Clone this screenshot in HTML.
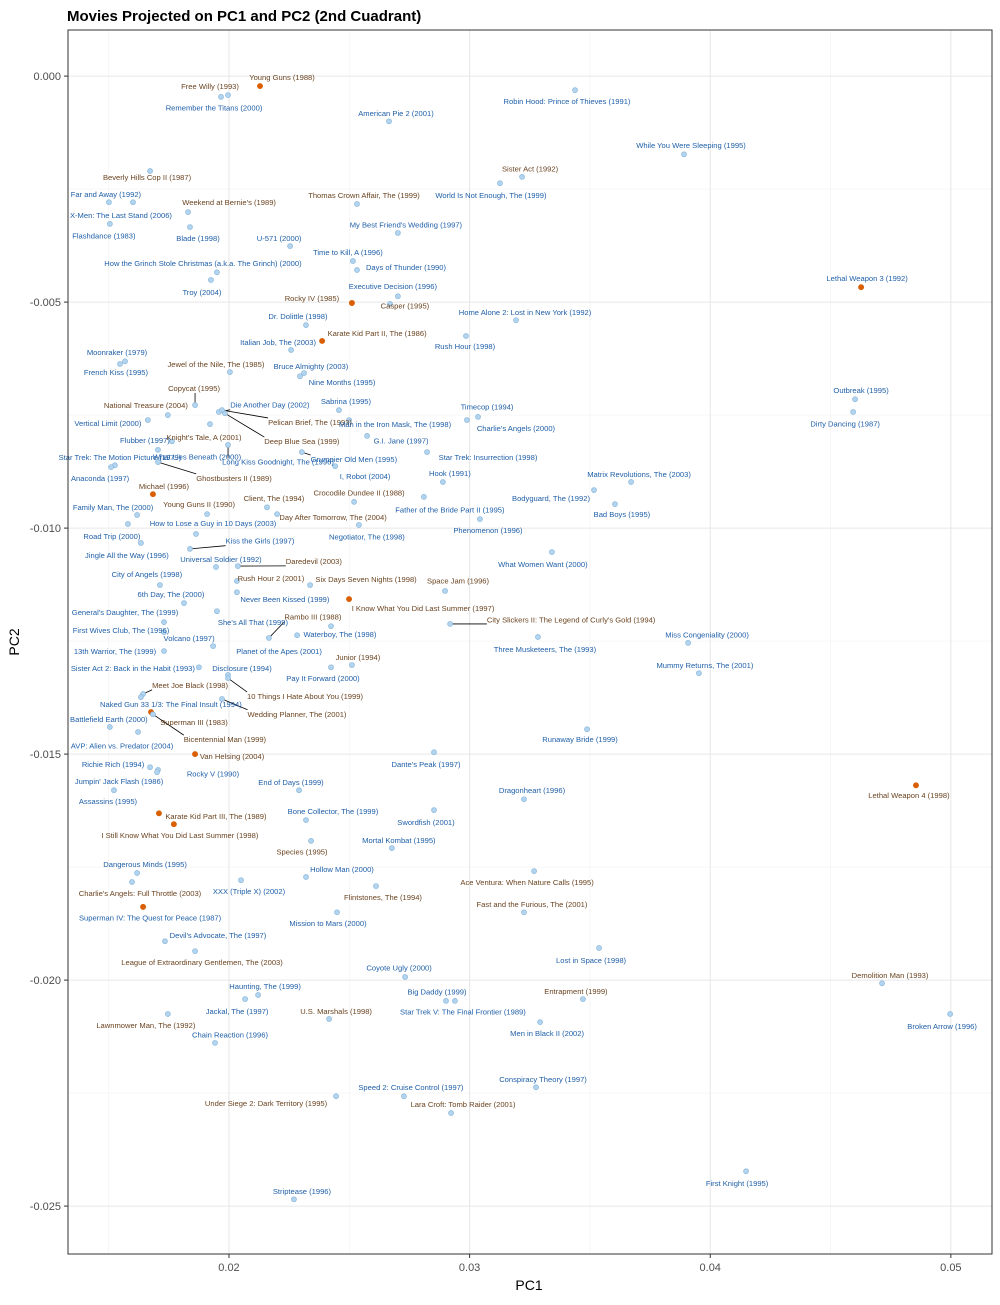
<!DOCTYPE html>
<html><head><meta charset="utf-8">
<style>
body{margin:0;background:#fff;}
svg text{font-family:"Liberation Sans",Arial,sans-serif;}
</style></head>
<body>
<svg id="chart" width="1000" height="1300" xmlns="http://www.w3.org/2000/svg">
<rect width="1000" height="1300" fill="#fff"/>
<text x="67" y="21" font-size="15" font-weight="bold" fill="#000">Movies Projected on PC1 and PC2 (2nd Cuadrant)</text>
<g id="grid"></g>
<g id="segs"></g>
<g id="pts"></g>
<g id="labs"></g>
<rect x="68" y="30" width="924" height="1224" fill="none" stroke="#333" stroke-width="1"/>
<g id="axes"></g>
<text x="529" y="1290" font-size="14" text-anchor="middle" fill="#000">PC1</text>
<text x="19" y="642" font-size="14" text-anchor="middle" fill="#000" transform="rotate(-90 19 642)">PC2</text>
</svg>
<script>
const titles=["Young Guns (1988)","Free Willy (1993)","Remember the Titans (2000)","American Pie 2 (2001)","Robin Hood: Prince of Thieves (1991)","While You Were Sleeping (1995)","Sister Act (1992)","World Is Not Enough, The (1999)","Thomas Crown Affair, The (1999)","Beverly Hills Cop II (1987)","Far and Away (1992)","X-Men: The Last Stand (2006)","Flashdance (1983)","Weekend at Bernie's (1989)","Blade (1998)","U-571 (2000)","My Best Friend's Wedding (1997)","Time to Kill, A (1996)","Days of Thunder (1990)","How the Grinch Stole Christmas (a.k.a. The Grinch) (2000)","Troy (2004)","Executive Decision (1996)","Casper (1995)","Rocky IV (1985)","Lethal Weapon 3 (1992)","Home Alone 2: Lost in New York (1992)","Dr. Dolittle (1998)","Karate Kid Part II, The (1986)","Italian Job, The (2003)","Rush Hour (1998)","Moonraker (1979)","French Kiss (1995)","Jewel of the Nile, The (1985)","Bruce Almighty (2003)","Nine Months (1995)","Copycat (1995)","Outbreak (1995)","Dirty Dancing (1987)","Sabrina (1995)","National Treasure (2004)","Die Another Day (2002)","Pelican Brief, The (1993)","Timecop (1994)","Vertical Limit (2000)","Man in the Iron Mask, The (1998)","Charlie's Angels (2000)","Knight's Tale, A (2001)","Flubber (1997)","G.I. Jane (1997)","Deep Blue Sea (1999)","Star Trek: The Motion Picture (1979)","What Lies Beneath (2000)","Long Kiss Goodnight, The (1996)","Grumpier Old Men (1995)","Star Trek: Insurrection (1998)","Ghostbusters II (1989)","Anaconda (1997)","I, Robot (2004)","Hook (1991)","Matrix Revolutions, The (2003)","Michael (1996)","Crocodile Dundee II (1988)","Client, The (1994)","Bodyguard, The (1992)","Family Man, The (2000)","Young Guns II (1990)","Father of the Bride Part II (1995)","Bad Boys (1995)","Day After Tomorrow, The (2004)","How to Lose a Guy in 10 Days (2003)","Phenomenon (1996)","Road Trip (2000)","Negotiator, The (1998)","Kiss the Girls (1997)","Jingle All the Way (1996)","Daredevil (2003)","Universal Soldier (1992)","What Women Want (2000)","City of Angels (1998)","Rush Hour 2 (2001)","Six Days Seven Nights (1998)","Space Jam (1996)","6th Day, The (2000)","Never Been Kissed (1999)","I Know What You Did Last Summer (1997)","City Slickers II: The Legend of Curly's Gold (1994)","General's Daughter, The (1999)","She's All That (1999)","Rambo III (1988)","Waterboy, The (1998)","First Wives Club, The (1996)","Volcano (1997)","Miss Congeniality (2000)","Three Musketeers, The (1993)","13th Warrior, The (1999)","Planet of the Apes (2001)","Junior (1994)","Sister Act 2: Back in the Habit (1993)","Disclosure (1994)","Mummy Returns, The (2001)","Pay It Forward (2000)","Meet Joe Black (1998)","10 Things I Hate About You (1999)","Naked Gun 33 1/3: The Final Insult (1994)","Wedding Planner, The (2001)","Battlefield Earth (2000)","Superman III (1983)","Bicentennial Man (1999)","Runaway Bride (1999)","AVP: Alien vs. Predator (2004)","Van Helsing (2004)","Dante's Peak (1997)","Richie Rich (1994)","Rocky V (1990)","Jumpin' Jack Flash (1986)","End of Days (1999)","Dragonheart (1996)","Lethal Weapon 4 (1998)","Assassins (1995)","Bone Collector, The (1999)","Karate Kid Part III, The (1989)","Swordfish (2001)","I Still Know What You Did Last Summer (1998)","Mortal Kombat (1995)","Species (1995)","Dangerous Minds (1995)","Hollow Man (2000)","Ace Ventura: When Nature Calls (1995)","Charlie's Angels: Full Throttle (2003)","XXX (Triple X) (2002)","Flintstones, The (1994)","Fast and the Furious, The (2001)","Superman IV: The Quest for Peace (1987)","Mission to Mars (2000)","Devil's Advocate, The (1997)","League of Extraordinary Gentlemen, The (2003)","Lost in Space (1998)","Coyote Ugly (2000)","Demolition Man (1993)","Haunting, The (1999)","Entrapment (1999)","Big Daddy (1999)","Star Trek V: The Final Frontier (1989)","Jackal, The (1997)","U.S. Marshals (1998)","Lawnmower Man, The (1992)","Men in Black II (2002)","Broken Arrow (1996)","Chain Reaction (1996)","Conspiracy Theory (1997)","Speed 2: Cruise Control (1997)","Under Siege 2: Dark Territory (1995)","Lara Croft: Tomb Raider (2001)","First Knight (1995)","Striptease (1996)"];
const pc1=[0.02129,0.01996,0.01967,0.02665,0.03438,0.03891,0.03218,0.03126,0.02532,0.01672,0.01501,0.01601,0.01505,0.01830,0.01838,0.02254,0.02702,0.02515,0.02532,0.01950,0.01925,0.02702,0.02669,0.02511,0.04627,0.03193,0.02320,0.02387,0.02258,0.02985,0.01568,0.01547,0.02004,0.02295,0.02312,0.01859,0.04602,0.04594,0.02457,0.01746,0.01958,0.01971,0.03035,0.01663,0.02499,0.02989,0.01921,0.01763,0.02574,0.01983,0.01526,0.01705,0.01996,0.02303,0.02823,0.01705,0.01510,0.02441,0.02889,0.03671,0.01684,0.02520,0.02158,0.03517,0.01618,0.01909,0.02810,0.03604,0.02200,0.01863,0.03043,0.01580,0.02540,0.01838,0.01634,0.02037,0.01946,0.03342,0.01713,0.02033,0.02337,0.02898,0.01813,0.02033,0.02499,0.02919,0.01730,0.01950,0.02166,0.02424,0.01730,0.01934,0.03908,0.03284,0.01730,0.02283,0.02511,0.01875,0.01996,0.03953,0.02424,0.01643,0.01996,0.01634,0.01971,0.01505,0.01676,0.01684,0.03488,0.01622,0.01859,0.02852,0.01672,0.01705,0.01701,0.02291,0.03226,0.04855,0.01522,0.02320,0.01709,0.02852,0.01771,0.02677,0.02341,0.01618,0.02320,0.03268,0.01597,0.02050,0.02611,0.03226,0.01643,0.02449,0.01734,0.01859,0.03538,0.02732,0.04714,0.02121,0.03471,0.02902,0.02939,0.02067,0.02416,0.01746,0.03293,0.04997,0.01942,0.03276,0.02727,0.02445,0.02923,0.04149,0.02270];
const pc2=[-0.00022,-0.00042,-0.00046,-0.00100,-0.00031,-0.00173,-0.00223,-0.00237,-0.00283,-0.00210,-0.00279,-0.00279,-0.00327,-0.00301,-0.00334,-0.00376,-0.00347,-0.00409,-0.00429,-0.00434,-0.00451,-0.00487,-0.00504,-0.00502,-0.00467,-0.00540,-0.00551,-0.00586,-0.00606,-0.00575,-0.00631,-0.00637,-0.00655,-0.00664,-0.00657,-0.00728,-0.00715,-0.00743,-0.00739,-0.00750,-0.00743,-0.00739,-0.00754,-0.00761,-0.00761,-0.00761,-0.00770,-0.00808,-0.00796,-0.00746,-0.00861,-0.00827,-0.00816,-0.00832,-0.00832,-0.00854,-0.00865,-0.00863,-0.00898,-0.00898,-0.00925,-0.00942,-0.00954,-0.00916,-0.00971,-0.00969,-0.00931,-0.00947,-0.00969,-0.01013,-0.00980,-0.00991,-0.00993,-0.01046,-0.01033,-0.01084,-0.01086,-0.01053,-0.01126,-0.01117,-0.01126,-0.01139,-0.01166,-0.01142,-0.01157,-0.01212,-0.01208,-0.01184,-0.01243,-0.01217,-0.01230,-0.01261,-0.01254,-0.01241,-0.01272,-0.01237,-0.01303,-0.01308,-0.01325,-0.01321,-0.01308,-0.01367,-0.01332,-0.01374,-0.01378,-0.01440,-0.01407,-0.01412,-0.01445,-0.01451,-0.01500,-0.01496,-0.01529,-0.01535,-0.01540,-0.01580,-0.01600,-0.01569,-0.01580,-0.01646,-0.01631,-0.01624,-0.01655,-0.01708,-0.01692,-0.01763,-0.01772,-0.01759,-0.01783,-0.01779,-0.01792,-0.01850,-0.01838,-0.01850,-0.01914,-0.01936,-0.01929,-0.01993,-0.02007,-0.02033,-0.02042,-0.02046,-0.02046,-0.02042,-0.02086,-0.02075,-0.02093,-0.02075,-0.02139,-0.02237,-0.02257,-0.02257,-0.02294,-0.02423,-0.02485];
const highlighted=[0,23,24,27,60,84,106,110,117,120,122,132];
const labelDx=[22,-18,-7,7,-8,7,8,-9,7,-3,-3,-12,-6,41,8,-11,8,-5,49,-14,-9,-5,15,-40,6,9,-8,55,-13,-1,-8,-4,-14,11,38,-1,6,-8,7,-22,51,88,9,-40,46,49,-6,-27,34,77,5,39,50,52,61,76,-11,30,7,8,11,5,7,-43,-24,-8,26,7,56,17,8,-16,8,70,-14,76,5,-9,-13,34,56,13,-13,48,74,121,-39,36,44,9,-43,-24,19,7,-49,-18,6,-66,14,6,-8,47,77,30,75,-1,43,72,-7,-16,37,-8,-37,55,-38,-8,8,-7,-6,27,57,-8,6,7,-9,8,36,-7,8,8,7,8,7,-9,53,7,-8,-6,8,7,-7,-9,8,-8,7,-22,7,-8,15,7,7,-70,12,-9,8];
const labelDy=[-9,-9,11,-8,11,-9,-8,12,-9,6,-8,13,12,-10,11,-8,-8,-9,-3,-9,12,-10,2,-5,-9,-8,-9,-8,-8,10,-9,8,-8,-10,9,-17,-9,12,-9,-10,-7,12,-10,3,4,8,13,-1,5,28,-8,7,17,7,5,16,11,10,-9,-8,-8,-9,-9,8,-8,-10,13,10,3,-11,11,12,12,-8,12,-5,-8,12,-11,-3,-6,-10,-9,7,9,-4,-10,11,-21,8,-2,-8,-8,12,0,16,-8,1,-7,-8,11,-9,18,7,15,-8,10,25,10,14,2,12,-3,4,9,-8,-9,10,11,-9,3,12,11,-8,11,-9,-8,11,11,11,11,-8,11,11,-6,11,12,-9,-8,-9,-8,-9,11,12,-8,11,11,12,-8,-8,-9,7,-9,12,-8];
const withSegment=[35,40,41,49,52,53,55,73,75,85,88,101,102,104,107];
const brownLabels=[0,1,6,8,9,13,22,23,27,32,35,39,41,46,49,55,60,61,62,65,68,75,79,80,81,84,85,88,96,101,102,104,106,107,110,117,120,122,124,127,128,130,131,135,138,140,144,145,151,152];

const X0=0.01331,X1=0.05171,Y0=0.00102,Y1=-0.02606;
const L=68,R=992,T=30,B=1254;
const sx=v=>L+(v-X0)/(X1-X0)*(R-L);
const sy=v=>T+(v-Y0)/(Y1-Y0)*(B-T);
const NS="http://www.w3.org/2000/svg";
function mk(tag,attrs,parent){const e=document.createElementNS(NS,tag);for(const k in attrs)e.setAttribute(k,attrs[k]);parent.appendChild(e);return e;}
const grid=document.getElementById('grid'),axes=document.getElementById('axes');
const xMinor=[0.015,0.025,0.035,0.045];
const xMajor=[0.02,0.03,0.04,0.05];
const xTickLabels=["0.02","0.03","0.04","0.05"];
const yMinor=[-0.0025,-0.0075,-0.0125,-0.0175,-0.0225];
const yMajor=[0,-0.005,-0.01,-0.015,-0.02,-0.025];
const yTickLabels=["0.000","-0.005","-0.010","-0.015","-0.020","-0.025"];
xMinor.forEach(v=>{const l=mk('line',{x1:sx(v),x2:sx(v),y1:T,y2:B,stroke:'#f2f2f2','stroke-width':0.6},grid);

});
yMinor.forEach(v=>{const l=mk('line',{x1:L,x2:R,y1:sy(v),y2:sy(v),stroke:'#f2f2f2','stroke-width':0.6},grid);

});
xMajor.forEach((v,i)=>{const l=mk('line',{x1:sx(v),x2:sx(v),y1:T,y2:B,stroke:'#e6e6e6','stroke-width':1},grid);


const t=mk('line',{x1:sx(v),x2:sx(v),y1:B,y2:B+4,stroke:'#333'},axes);


const tx=mk('text',{x:sx(v),y:B+17,'font-size':11,'text-anchor':'middle',fill:'#4d4d4d'},axes);tx.textContent=xTickLabels[i];

});
yMajor.forEach((v,i)=>{const l=mk('line',{x1:L,x2:R,y1:sy(v),y2:sy(v),stroke:'#e6e6e6','stroke-width':1},grid);


const t=mk('line',{x1:L-4,x2:L,y1:sy(v),y2:sy(v),stroke:'#333'},axes);


const tx=mk('text',{x:L-7,y:sy(v)+4,'font-size':11,'text-anchor':'end',fill:'#4d4d4d'},axes);tx.textContent=yTickLabels[i];

});
const pts=document.getElementById('pts'),labs=document.getElementById('labs'),segs=document.getElementById('segs');
titles.forEach((t,i)=>{
 const px=sx(pc1[i]),py=sy(pc2[i]);const hi=highlighted.includes(i);
 const c=mk('circle',{cx:px,cy:py,r:hi?2.6:2.5,fill:hi?'#d95f02':'#b3d4ee',stroke:hi?'#d95f02':'#8ab8dc','stroke-width':0.7},pts);
 
 
 const lx=px+labelDx[i],ly=py+labelDy[i];
 const tx=mk('text',{x:lx,y:ly+2.8,'font-size':7.6,'text-anchor':'middle',fill:brownLabels.includes(i)?'#6b4421':'#1f5fa8'},labs);
 tx.textContent=t;
 
 
 if(withSegment.includes(i)){
  const bb=tx.getBBox();
  const ex=Math.max(bb.x,Math.min(px,bb.x+bb.width)),ey=Math.max(bb.y,Math.min(py,bb.y+bb.height));
  const s=mk('line',{x1:px,y1:py,x2:ex,y2:ey,stroke:'#000','stroke-width':0.8},segs);
  
  
 }
});
</script>
</body></html>
